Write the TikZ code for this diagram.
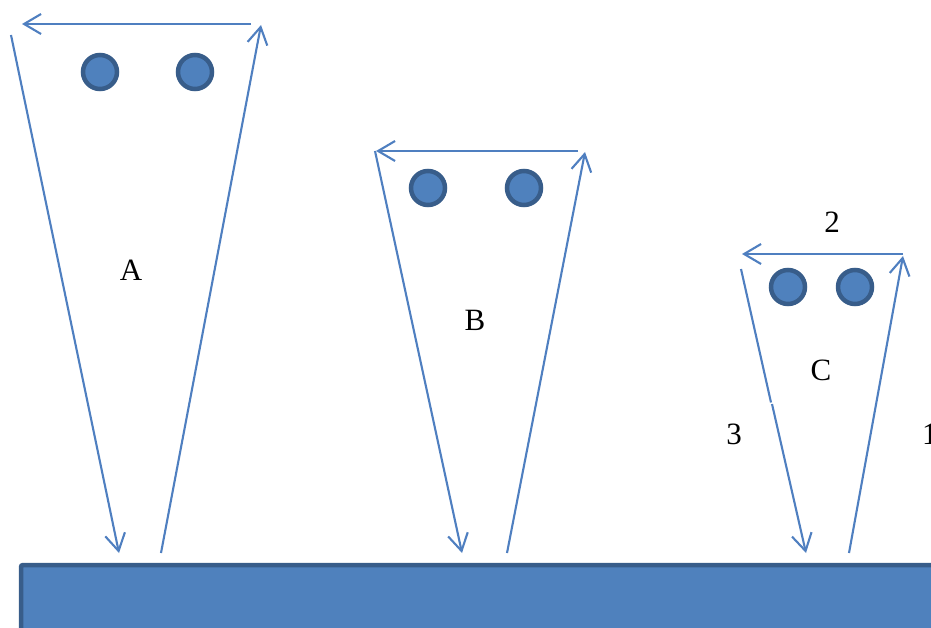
\documentclass[tikz,border=0pt]{standalone}
\usepackage{fontspec}
\setmainfont{Liberation Serif}
\usetikzlibrary{arrows.meta}
\definecolor{beamblue}{HTML}{4F7FC0}
\definecolor{ballfill}{HTML}{4F81BD}
\definecolor{balledge}{HTML}{385D8A}
\tikzset{
  beam/.style={draw=beamblue, line width=2.1pt, -{Straight Barb[length=17pt,width=20pt,line width=2.1pt]}},
  plainbeam/.style={draw=beamblue, line width=2.1pt},
  ball/.style={circle, fill=ballfill, draw=balledge, line width=4.5pt, minimum size=34pt, inner sep=0pt},
  lbl/.style={font=\fontsize{31}{31}\selectfont, inner sep=0pt},
}
\begin{document}
\begin{tikzpicture}[x=1pt,y=-1pt]
\useasboundingbox (0,0) rectangle (931,628);
\begin{scope}
\clip (0,0) rectangle (931,628);
% base plate
\draw[fill=ballfill, draw=balledge, line width=4.5pt, rounded corners=2pt] (21,565) rectangle (960,660);
\end{scope}
% cone A
\coordinate (a1) at (11,35);   \coordinate (a2) at (119,553);
\coordinate (a3) at (161,553); \coordinate (a4) at (261,25);
\coordinate (a5) at (251,24);  \coordinate (a6) at (22,24);
\draw[beam] (a1) -- (a2);
\draw[beam] (a3) -- (a4);
\draw[beam] (a5) -- (a6);
\node[ball] (a7) at (100,72) {};
\node[ball] (a8) at (195,72) {};
\node[lbl] (la) at (131,270) {A};
% cone B
\coordinate (b1) at (375,151); \coordinate (b2) at (462,553);
\coordinate (b3) at (507,553); \coordinate (b4) at (585,152);
\coordinate (b5) at (578,151); \coordinate (b6) at (376,151);
\draw[beam] (b1) -- (b2);
\draw[beam] (b3) -- (b4);
\draw[beam] (b5) -- (b6);
\node[ball] (b7) at (428,188) {};
\node[ball] (b8) at (524,188) {};
\node[lbl] (lb) at (475,320) {B};
% cone C
\coordinate (c1) at (741,269); \coordinate (c1a) at (771,402.5);
\coordinate (c1b) at (772,404); \coordinate (c2) at (806,553);
\coordinate (c3) at (849,553); \coordinate (c4) at (903,256);
\coordinate (c5) at (903,254); \coordinate (c6) at (742,254);
\draw[plainbeam] (c1) -- (c1a);
\draw[beam] (c1b) -- (c2);
\draw[beam] (c3) -- (c4);
\draw[beam] (c5) -- (c6);
\node[ball] (c7) at (788,287) {};
\node[ball] (c8) at (855,287) {};
\node[lbl] (lc) at (821,370) {C};
\node[lbl] (l2) at (832,222) {2};
\node[lbl] (l3) at (734,434) {3};
\node[lbl, anchor=west] (l1) at (922,434) {1};
\end{tikzpicture}
\end{document}
